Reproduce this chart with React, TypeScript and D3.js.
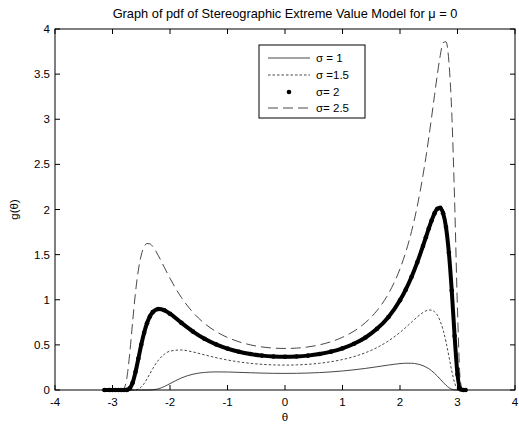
import React from "react";
import * as d3 from "d3";

const theta = [-3.14, -3.05, -3.0, -2.95, -2.9, -2.85, -2.8, -2.75, -2.7, -2.65, -2.6, -2.55, -2.5, -2.45, -2.4, -2.35, -2.3, -2.2, -2.1, -2.0, -1.8, -1.6, -1.4, -1.2, -1.0, -0.8, -0.6, -0.4, -0.2, 0, 0.2, 0.4, 0.6, 0.8, 1.0, 1.2, 1.4, 1.6, 1.8, 2.0, 2.1, 2.2, 2.3, 2.4, 2.45, 2.5, 2.55, 2.6, 2.65, 2.7, 2.75, 2.8, 2.85, 2.9, 2.95, 3.0, 3.05, 3.1, 3.14];

const sigma1 = [0, 0, 0, 0, 0, 0, 0, 0, 0, 0, 0, 0, 0, 0, 0, 0.0007, 0.0025, 0.0138, 0.0381, 0.0707, 0.1343, 0.1753, 0.1946, 0.2005, 0.1994, 0.1956, 0.1911, 0.1873, 0.1849, 0.1839, 0.1849, 0.1879, 0.193, 0.2006, 0.2107, 0.2236, 0.2393, 0.2574, 0.2764, 0.2923, 0.2966, 0.2963, 0.2883, 0.2695, 0.2548, 0.236, 0.2128, 0.1855, 0.154, 0.1198, 0.0847, 0.0524, 0.0261, 0.0091, 0.0017, 0, 0, 0, 0];

const sigma15 = [0, 0, 0, 0, 0, 0, 0, 0, 0, 0, 0.0019, 0.0106, 0.033, 0.0718, 0.1228, 0.1801, 0.2366, 0.332, 0.3962, 0.4306, 0.4433, 0.4211, 0.3894, 0.3586, 0.3324, 0.3113, 0.2955, 0.2845, 0.2781, 0.2759, 0.2781, 0.2847, 0.2963, 0.3137, 0.3377, 0.3702, 0.4134, 0.4703, 0.5441, 0.6384, 0.693, 0.751, 0.809, 0.859, 0.8765, 0.8865, 0.8845, 0.8677, 0.829, 0.762, 0.6636, 0.533, 0.375, 0.2118, 0.0795, 0.0124, 0.0002, 0, 0];

const sigma2 = [0, 0, 0, 0, 0, 0, 0, 0.0013, 0.0181, 0.0806, 0.1984, 0.3486, 0.5016, 0.6348, 0.7395, 0.8148, 0.8624, 0.8983, 0.884, 0.8453, 0.7435, 0.6472, 0.5676, 0.5057, 0.4585, 0.4233, 0.3981, 0.381, 0.3711, 0.3679, 0.3711, 0.381, 0.3985, 0.4247, 0.4616, 0.5125, 0.5821, 0.6775, 0.8093, 0.9936, 1.1117, 1.2517, 1.4137, 1.5961, 1.692, 1.7887, 1.8785, 1.957, 2.009, 2.018, 1.958, 1.805, 1.521, 1.102, 0.597, 0.173, 0.0087, 0, 0];

const sigma25 = [0, 0, 0, 0, 0, 0.0002, 0.0169, 0.1351, 0.4066, 0.755, 1.0807, 1.329, 1.4951, 1.5878, 1.6229, 1.6194, 1.5897, 1.4856, 1.3603, 1.2373, 1.0232, 0.8597, 0.7374, 0.6481, 0.582, 0.534, 0.4999, 0.4771, 0.4641, 0.4599, 0.4641, 0.4772, 0.5002, 0.5349, 0.584, 0.6523, 0.7472, 0.88, 1.0679, 1.343, 1.5274, 1.7554, 2.036, 2.3797, 2.5774, 2.7945, 3.025, 3.264, 3.498, 3.706, 3.849, 3.859, 3.64, 3.074, 2.092, 0.884, 0.0961, 0, 0];

const xTicks = [-4, -3, -2, -1, 0, 1, 2, 3, 4];
const yTicks = [0, 0.5, 1, 1.5, 2, 2.5, 3, 3.5, 4];
const legendLabels = ["\u03C3 = 1", "\u03C3 =1.5", "\u03C3= 2", "\u03C3= 2.5"];
const titleText = "Graph of pdf of Stereographic Extreme Value Model for \u03BC = 0";

const W = 519;
const H = 428;
const L = 55, R = 515, T = 29, B = 390;
const FONT = "'Liberation Sans', Arial, sans-serif";

export default function App() {
  const x = d3.scaleLinear().domain([-4, 4]).range([L, R]);
  const y = d3.scaleLinear().domain([0, 4]).range([B, T]);
  const line = d3
    .line<number>()
    .x((_, i) => x(theta[i]))
    .y((v) => y(v))
    .curve(d3.curveMonotoneX);

  const series = [
    { values: sigma1, dash: undefined as string | undefined, width: 0.9, color: "#333" },
    { values: sigma15, dash: "2.5,2", width: 0.9, color: "#333" },
    { values: sigma25, dash: "10,5", width: 0.9, color: "#333" },
  ];
  const tl = 5;
  const legendRows = [58, 75, 92, 108];

  return (
    <svg
      width={W}
      height={H}
      style={{ position: "absolute", left: 0, top: 0, background: "#fff" }}
      fontFamily={FONT}
    >
      <rect x={0} y={0} width={W} height={H} fill="#fff" />
      <text x={(L + R) / 2} y={18} fontSize={12.8} textAnchor="middle" fill="#000">
        {titleText}
      </text>

      {series.map((s, k) => (
        <path
          key={k}
          d={line(s.values) || ""}
          fill="none"
          stroke={s.color}
          strokeWidth={s.width}
          strokeDasharray={s.dash}
        />
      ))}
      <path
        d={line(sigma2) || ""}
        fill="none"
        stroke="#000"
        strokeWidth={4}
        strokeLinejoin="round"
        strokeLinecap="round"
      />
      {sigma2.map((v, i) => (
        <circle key={i} cx={x(theta[i])} cy={y(v)} r={2.3} fill="#000" />
      ))}

      <rect x={L} y={T} width={R - L} height={B - T} fill="none" stroke="#000" strokeWidth={1} />
      {xTicks.map((t) => (
        <g key={"x" + t}>
          <line x1={x(t)} x2={x(t)} y1={B} y2={B - tl} stroke="#000" />
          <line x1={x(t)} x2={x(t)} y1={T} y2={T + tl} stroke="#000" />
          <text x={x(t)} y={406} fontSize={11.5} textAnchor="middle" fill="#000">
            {String(t)}
          </text>
        </g>
      ))}
      {yTicks.map((t) => (
        <g key={"y" + t}>
          <line x1={L} x2={L + tl} y1={y(t)} y2={y(t)} stroke="#000" />
          <line x1={R} x2={R - tl} y1={y(t)} y2={y(t)} stroke="#000" />
          <text x={50} y={y(t) + 4} fontSize={11.5} textAnchor="end" fill="#000">
            {String(t)}
          </text>
        </g>
      ))}
      <text x={(L + R) / 2} y={421} fontSize={11.5} textAnchor="middle" fill="#000">
        {"\u03B8"}
      </text>
      <text
        transform={`translate(18, ${(T + B) / 2}) rotate(-90)`}
        fontSize={11.5}
        textAnchor="middle"
        fill="#000"
      >
        {"g(\u03B8)"}
      </text>

      <rect x={259} y={45} width={106} height={73} fill="#fff" stroke="#000" strokeWidth={1} />
      {legendRows.map((ry, i) => (
        <g key={"l" + i}>
          {i === 0 && <line x1={268} x2={310} y1={ry} y2={ry} stroke="#333" strokeWidth={0.9} />}
          {i === 1 && (
            <line x1={268} x2={310} y1={ry} y2={ry} stroke="#333" strokeWidth={0.9} strokeDasharray="2.5,2" />
          )}
          {i === 2 && <circle cx={289} cy={ry} r={2.3} fill="#000" />}
          {i === 3 && (
            <line x1={268} x2={310} y1={ry} y2={ry} stroke="#333" strokeWidth={0.9} strokeDasharray="10,5" />
          )}
          <text x={316} y={ry + 4} fontSize={11.5} fill="#000">
            {legendLabels[i]}
          </text>
        </g>
      ))}
    </svg>
  );
}
